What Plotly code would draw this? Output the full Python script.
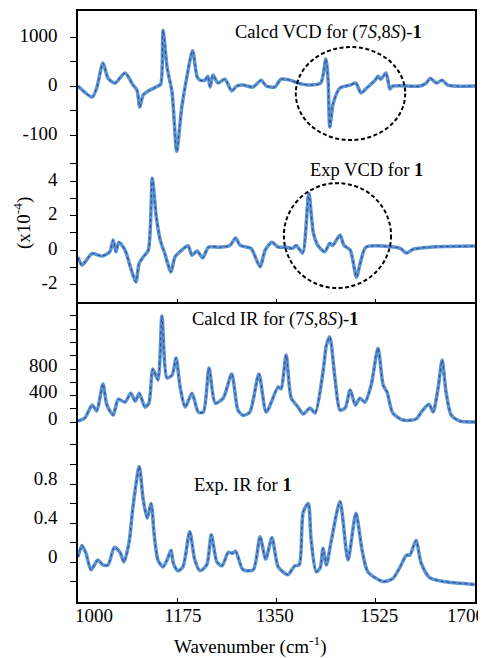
import plotly.graph_objects as go

# ------------------------------------------------------------------------------
# Spectra (wavenumber in cm-1)

calc_vcd_x = [1000, 1025, 1033, 1044, 1053, 1065, 1083, 1097, 1104, 1109, 1115, 1124,
              1141, 1146, 1150, 1157, 1166, 1174, 1183, 1192, 1202, 1210, 1215, 1224,
              1229, 1233, 1238, 1247, 1259, 1271, 1280, 1291, 1309, 1323, 1332, 1347,
              1358, 1374, 1388, 1409, 1428, 1437, 1441, 1444, 1450, 1462, 1480, 1490,
              1499, 1511, 1524, 1529, 1534, 1543, 1550, 1555, 1603, 1614, 1621, 1632,
              1642, 1652, 1700]
calc_vcd_y = [0, -225, -40, 470, 160, 60, 265, 20, -80, -430, -180, -100,
              0, 40, 1140, 390, -140, -1330, -430, 190, 720, 190, 120, 120,
              200, -20, 225, 60, 140, -100, 0, 20, -20, 120, 0, -20,
              140, 120, 60, 20, 60, 550, 120, -835, -350, -40, 20, 60,
              -140, -20, 120, 200, 140, 265, -60, 0, 0, 60, 160, 60,
              120, 20, 0]

exp_vcd_x = [1000, 1007, 1025, 1042, 1056, 1062, 1067, 1072, 1083, 1093, 1102, 1108,
             1115, 1124, 1131, 1138, 1145, 1153, 1164, 1171, 1183, 1194, 1201, 1210,
             1220, 1230, 1251, 1268, 1278, 1286, 1305, 1321, 1330, 1342, 1353, 1367,
             1378, 1385, 1396, 1407, 1415, 1423, 1435, 1444, 1449, 1462, 1469, 1480,
             1491, 1499, 1508, 1568, 1579, 1591, 1620, 1700]
exp_vcd_y = [-0.4, -0.87, -0.2, -0.35, -0.1, 0.58, -0.1, 0.46, 0, -1.05, -1.85, -0.75,
             -0.4, 0, 4.17, 1.93, 0.58, -0.2, -1.27, -0.4, 0, 0.25, -0.3, -0.05,
             -0.45, 0.17, 0.17, 0.27, 0.7, 0.27, 0.1, -0.97, 0, 0.45, 0.17, 0.17,
             0.1, 0.27, -0.17, 3.3, 1.0, 0.27, -0.1, 0.4, 0.27, 0.87, 0.27, 0,
             -1.57, -0.58, 0.17, 0.1, -0.17, 0.05, 0.17, 0.23]

calc_ir_x = [1000, 1012, 1025, 1033, 1044, 1051, 1062, 1071, 1083, 1093, 1101, 1108,
             1118, 1125, 1132, 1141, 1148, 1157, 1166, 1173, 1180, 1189, 1201, 1212,
             1221, 1231, 1242, 1256, 1271, 1282, 1291, 1303, 1319, 1332, 1353, 1358,
             1367, 1376, 1388, 1397, 1409, 1418, 1432, 1438, 1444, 1453, 1462, 1471,
             1480, 1489, 1497, 1506, 1517, 1529, 1538, 1545, 1555, 1573, 1596, 1608,
             1619, 1626, 1635, 1642, 1649, 1658, 1673, 1700]
calc_ir_y = [15, 60, 255, 165, 575, 255, 105, 345, 300, 435, 315, 435,
             225, 285, 800, 635, 1600, 665, 710, 965, 530, 225, 435, 150,
             150, 815, 285, 360, 725, 180, 100, 150, 725, 150, 530, 500,
             1010, 360, 225, 120, 210, 135, 755, 1160, 1285, 665, 180, 210,
             485, 255, 360, 300, 560, 1115, 560, 450, 135, 30, 45, 180,
             270, 150, 515, 935, 450, 105, 15, 0]

exp_ir_x = [1000, 1007, 1014, 1023, 1035, 1044, 1053, 1064, 1074, 1081, 1090, 1097,
            1108, 1115, 1122, 1129, 1134, 1141, 1150, 1157, 1164, 1168, 1176, 1185,
            1197, 1206, 1215, 1227, 1235, 1245, 1254, 1265, 1272, 1278, 1291, 1309,
            1321, 1331, 1342, 1353, 1370, 1382, 1390, 1397, 1406, 1411, 1420, 1427,
            1432, 1438, 1446, 1462, 1476, 1490, 1501, 1511, 1538, 1555, 1568, 1579,
            1585, 1596, 1605, 1620, 1644, 1700]
exp_ir_y = [0.05, 0.17, 0.09, -0.08, 0.02, -0.03, -0.03, 0.15, 0.1, 0, 0.2, 0.57,
            0.98, 0.64, 0.45, 0.6, 0.3, 0.02, -0.05, 0.02, 0.12, -0.01, -0.09, -0.05,
            0.31, 0.02, -0.09, -0.03, 0.28, 0, -0.04, 0.1, 0.09, 0.11, -0.08, -0.08,
            0.26, 0.03, 0.25, -0.05, -0.13, -0.04, -0.03, 0.51, 0.6, 0.23, -0.1, -0.06,
            0.14, -0.03, 0.2, 0.62, 0.02, 0.5, 0.12, -0.1, -0.2, -0.17, -0.05, 0.07,
            0.07, 0.22, -0.01, -0.16, -0.2, -0.23]

x_ticks = [1000, 1175, 1350, 1525, 1700]
x_labels = ["1000", "1175", "1350", "1525", "1700"]
# where the printed tick labels sit (edge labels are pulled inwards in the original)
x_label_pos = [1028, 1185, 1347, 1531, 1684]

# y tick labels as printed (calcd VCD lower label reads "-100" in the original)
vcd_calc_ticks, vcd_calc_labels = [-1000, 0, 1000], ["-100", "0", "1000"]
vcd_exp_ticks, vcd_exp_labels = [-2, 0, 2, 4], ["-2", "0", "2", "4"]
ir_calc_ticks = [0, 400, 800]
ir_exp_ticks = [0, 0.4, 0.8]

# ------------------------------------------------------------------------------

FONT = "Liberation Serif"
FS = 19
THICK = "rgb(88,150,206)"
THIN = "rgb(62,48,160)"
XR = [1000, 1700]

fig = go.Figure()

panels = [(calc_vcd_x, calc_vcd_y), (exp_vcd_x, exp_vcd_y),
          (calc_ir_x, calc_ir_y), (exp_ir_x, exp_ir_y)]
for i, (xs, ys) in enumerate(panels, start=1):
    xa, ya = "x%d" % i, "y%d" % i
    # thick light-blue line with a thin dark dotted line on top
    fig.add_trace(go.Scatter(x=xs, y=ys, xaxis=xa, yaxis=ya, mode="lines",
        line=dict(color=THICK, width=3.5, shape="spline", smoothing=0.7),
        showlegend=False, hoverinfo="skip"))
    fig.add_trace(go.Scatter(x=xs, y=ys, xaxis=xa, yaxis=ya, mode="lines",
        line=dict(color=THIN, width=1, dash="dot", shape="spline", smoothing=0.7),
        showlegend=False))

yax = dict(showline=True, linecolor="black", linewidth=1.5, mirror=True,
           ticks="outside", ticklen=6, tickcolor="black", showgrid=False,
           zeroline=False, automargin=False, ticklabelstandoff=9,
           tickfont=dict(family=FONT, size=FS, color="black"))
xax = dict(range=XR, showgrid=False, zeroline=False, linecolor="black", linewidth=1.5,
           automargin=False)


def minor(vals):
    return dict(tickvals=vals, ticks="outside", ticklen=6, tickcolor="black",
                showgrid=False)


# the page body adds an 8px offset, so the figure is 8px smaller than the window
fig.update_layout(
    width=478, height=650,
    margin=dict(l=70, r=11, t=3, b=56),
    plot_bgcolor="white", paper_bgcolor="white",
    font=dict(family=FONT, color="black"),
    # top border of the VCD box
    xaxis1=dict(xax, anchor="y1", side="top", showline=True, ticks="",
                showticklabels=False),
    # line separating VCD and IR boxes
    xaxis2=dict(xax, anchor="y2", side="bottom", showline=True, ticks="inside",
                ticklen=3, tickcolor="black", tickvals=x_ticks, showticklabels=False),
    # carries the printed wavenumber labels under the bottom panel
    xaxis3=dict(xax, anchor="y4", side="bottom", showline=False, ticks="",
                tickvals=x_label_pos, ticktext=x_labels, ticklabeloverflow="allow",
                tickfont=dict(family=FONT, size=FS, color="black")),
    xaxis4=dict(xax, anchor="y4", side="bottom", showline=True, ticks="inside",
                ticklen=4, tickcolor="black", tickvals=x_ticks, showticklabels=False),
    yaxis1=dict(yax, anchor="x1", domain=[0.7563, 1], range=[-1408, 1531],
                tickvals=vcd_calc_ticks, ticktext=vcd_calc_labels, ticklabelshift=-2,
                minor=minor([-500, 500])),
    yaxis2=dict(yax, anchor="x2", domain=[0.5076, 0.7563], range=[-3.01, 5.51],
                tickvals=vcd_exp_ticks, ticktext=vcd_exp_labels, ticklabelshift=-2,
                minor=minor([-1, 1, 3, 5])),
    yaxis3=dict(yax, anchor="x3", domain=[0.2792, 0.5076], range=[-226, 1811],
                tickvals=ir_calc_ticks, ticklabelshift=-4,
                minor=minor([200, 600, 1000, 1200, 1400, 1600])),
    yaxis4=dict(yax, anchor="x4", domain=[0, 0.2792], range=[-0.41, 1.282],
                tickvals=ir_exp_ticks, ticklabelshift=-6,
                minor=minor([-0.2, 0.2, 0.6, 1.0, 1.2])),
)

# panel captions
caps = [("Calcd VCD for (7<i>S</i>,8<i>S</i>)-<b>1</b>", 1273, 1102, "1"),
        ("Exp VCD for <b>1</b>", 1406, 4.64, "2"),
        ("Calcd IR for (7<i>S</i>,8<i>S</i>)-<b>1</b>", 1197, 1540, "3"),
        ("Exp. IR for <b>1</b>", 1201, 0.79, "4")]
for txt, cx, cy, k in caps:
    fig.add_annotation(text=txt, x=cx, y=cy, xref="x" + k, yref="y" + k,
                       xanchor="left", yanchor="middle", showarrow=False,
                       font=dict(family=FONT, size=18.5, color="black"))

# axis titles
fig.add_annotation(text="(x10<sup>-4</sup>)", x=(22 - 78) / 397, y=(602 - 223) / 591,
                   xref="paper", yref="paper", xanchor="center", yanchor="middle",
                   showarrow=False, textangle=-90,
                   font=dict(family=FONT, size=FS, color="black"))
fig.add_annotation(text="Wavenumber (cm<sup>-1</sup>)", x=(250 - 78) / 397,
                   y=(602 - 645) / 591, xref="paper", yref="paper",
                   xanchor="center", yanchor="middle", showarrow=False,
                   font=dict(family=FONT, size=FS, color="black"))

# dashed circles marking the compared bands
ring = dict(color="black", width=2, dash="4px,2.5px")
fig.add_shape(type="circle", xref="x1", yref="y1", x0=1384, x1=1577, y0=-1102, y1=796,
              line=ring)
fig.add_shape(type="circle", xref="x2", yref="y2", x0=1363, x1=1552, y0=-2.2, y1=3.88,
              line=ring)

fig.write_html("out.html")
